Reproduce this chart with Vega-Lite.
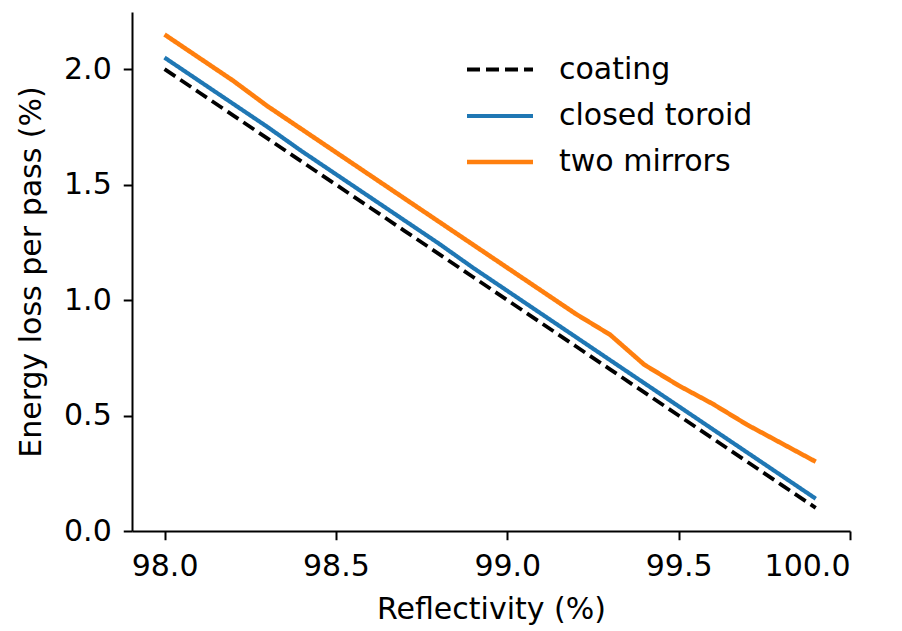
{
  "$schema": "https://vega.github.io/schema/vega-lite/v6.json",
  "width": 718,
  "height": 519,
  "autosize": {"type": "none"},
  "padding": {"left": 132, "top": 12, "right": 52, "bottom": 100},
  "background": "white",
  "config": {
    "font": "DejaVu Sans",
    "view": {"stroke": null},
    "axis": {
      "domainColor": "#000",
      "domainWidth": 2,
      "tickColor": "#000",
      "tickWidth": 2,
      "tickSize": 8.75,
      "labelFont": "DejaVu Sans",
      "labelFontSize": 30,
      "labelColor": "#000",
      "labelPadding": 8,
      "titleFont": "DejaVu Sans",
      "titleFontSize": 30,
      "titleFontWeight": "normal",
      "titleColor": "#000",
      "grid": false
    }
  },
  "data": {
    "values": [
      {"R": 98.0, "loss": 2.0, "series": "coating"},
      {"R": 98.1, "loss": 1.9, "series": "coating"},
      {"R": 98.2, "loss": 1.8, "series": "coating"},
      {"R": 98.3, "loss": 1.7, "series": "coating"},
      {"R": 98.4, "loss": 1.6, "series": "coating"},
      {"R": 98.5, "loss": 1.5, "series": "coating"},
      {"R": 98.6, "loss": 1.4, "series": "coating"},
      {"R": 98.7, "loss": 1.3, "series": "coating"},
      {"R": 98.8, "loss": 1.2, "series": "coating"},
      {"R": 98.9, "loss": 1.1, "series": "coating"},
      {"R": 99.0, "loss": 1.0, "series": "coating"},
      {"R": 99.1, "loss": 0.9, "series": "coating"},
      {"R": 99.2, "loss": 0.8, "series": "coating"},
      {"R": 99.3, "loss": 0.7, "series": "coating"},
      {"R": 99.4, "loss": 0.6, "series": "coating"},
      {"R": 99.5, "loss": 0.5, "series": "coating"},
      {"R": 99.6, "loss": 0.4, "series": "coating"},
      {"R": 99.7, "loss": 0.3, "series": "coating"},
      {"R": 99.8, "loss": 0.2, "series": "coating"},
      {"R": 99.9, "loss": 0.1, "series": "coating"},
      {"R": 98.0, "loss": 2.05, "series": "closed toroid"},
      {"R": 98.1, "loss": 1.95, "series": "closed toroid"},
      {"R": 98.2, "loss": 1.85, "series": "closed toroid"},
      {"R": 98.3, "loss": 1.75, "series": "closed toroid"},
      {"R": 98.4, "loss": 1.645, "series": "closed toroid"},
      {"R": 98.5, "loss": 1.545, "series": "closed toroid"},
      {"R": 98.6, "loss": 1.445, "series": "closed toroid"},
      {"R": 98.7, "loss": 1.345, "series": "closed toroid"},
      {"R": 98.8, "loss": 1.245, "series": "closed toroid"},
      {"R": 98.9, "loss": 1.14, "series": "closed toroid"},
      {"R": 99.0, "loss": 1.04, "series": "closed toroid"},
      {"R": 99.1, "loss": 0.94, "series": "closed toroid"},
      {"R": 99.2, "loss": 0.84, "series": "closed toroid"},
      {"R": 99.3, "loss": 0.74, "series": "closed toroid"},
      {"R": 99.4, "loss": 0.64, "series": "closed toroid"},
      {"R": 99.5, "loss": 0.54, "series": "closed toroid"},
      {"R": 99.6, "loss": 0.44, "series": "closed toroid"},
      {"R": 99.7, "loss": 0.34, "series": "closed toroid"},
      {"R": 99.8, "loss": 0.24, "series": "closed toroid"},
      {"R": 99.9, "loss": 0.14, "series": "closed toroid"},
      {"R": 98.0, "loss": 2.15, "series": "two mirrors"},
      {"R": 98.1, "loss": 2.05, "series": "two mirrors"},
      {"R": 98.2, "loss": 1.95, "series": "two mirrors"},
      {"R": 98.3, "loss": 1.84, "series": "two mirrors"},
      {"R": 98.4, "loss": 1.74, "series": "two mirrors"},
      {"R": 98.5, "loss": 1.64, "series": "two mirrors"},
      {"R": 98.6, "loss": 1.54, "series": "two mirrors"},
      {"R": 98.7, "loss": 1.44, "series": "two mirrors"},
      {"R": 98.8, "loss": 1.34, "series": "two mirrors"},
      {"R": 98.9, "loss": 1.24, "series": "two mirrors"},
      {"R": 99.0, "loss": 1.14, "series": "two mirrors"},
      {"R": 99.1, "loss": 1.04, "series": "two mirrors"},
      {"R": 99.2, "loss": 0.94, "series": "two mirrors"},
      {"R": 99.3, "loss": 0.85, "series": "two mirrors"},
      {"R": 99.4, "loss": 0.72, "series": "two mirrors"},
      {"R": 99.5, "loss": 0.63, "series": "two mirrors"},
      {"R": 99.6, "loss": 0.55, "series": "two mirrors"},
      {"R": 99.7, "loss": 0.46, "series": "two mirrors"},
      {"R": 99.8, "loss": 0.38, "series": "two mirrors"},
      {"R": 99.9, "loss": 0.30, "series": "two mirrors"}
    ]
  },
  "mark": {"type": "line", "clip": true},
  "encoding": {
    "x": {
      "field": "R",
      "type": "quantitative",
      "title": "Reflectivity (%)",
      "scale": {"domain": [97.905, 100.0], "nice": false, "zero": false},
      "axis": {"values": [98.0, 98.5, 99.0, 99.5, 100.0], "format": ".1f", "labelPadding": 12, "titlePadding": 13}
    },
    "y": {
      "field": "loss",
      "type": "quantitative",
      "title": "Energy loss per pass (%)",
      "scale": {"domain": [0, 2.2475], "nice": false},
      "axis": {"values": [0, 0.5, 1.0, 1.5, 2.0], "format": ".1f", "labelPadding": 12, "titlePadding": 17}
    },
    "color": {
      "field": "series",
      "type": "nominal",
      "scale": {"domain": ["coating", "closed toroid", "two mirrors"], "range": ["#000000", "#1f77b4", "#ff7f0e"]},
      "legend": {
        "title": null,
        "orient": "none",
        "legendX": 349,
        "legendY": 39,
        "symbolType": "M-2,0H2",
        "symbolSize": 1089,
        "symbolStrokeWidth": 4.5,
        "symbolFillColor": "transparent",
        "labelFontSize": 30,
        "labelFont": "DejaVu Sans",
        "labelColor": "#000",
        "labelLimit": 400,
        "labelOffset": 40,
        "rowPadding": 12
      }
    },
    "strokeDash": {
      "field": "series",
      "type": "nominal",
      "scale": {"domain": ["coating", "closed toroid", "two mirrors"], "range": [[13, 6], [1, 0], [1, 0]]},
      "legend": null
    },
    "strokeWidth": {
      "field": "series",
      "type": "nominal",
      "scale": {"domain": ["coating", "closed toroid", "two mirrors"], "range": [3.8, 4.6, 4.6]},
      "legend": null
    },
    "order": {"field": "series", "sort": "ascending"}
  }
}
